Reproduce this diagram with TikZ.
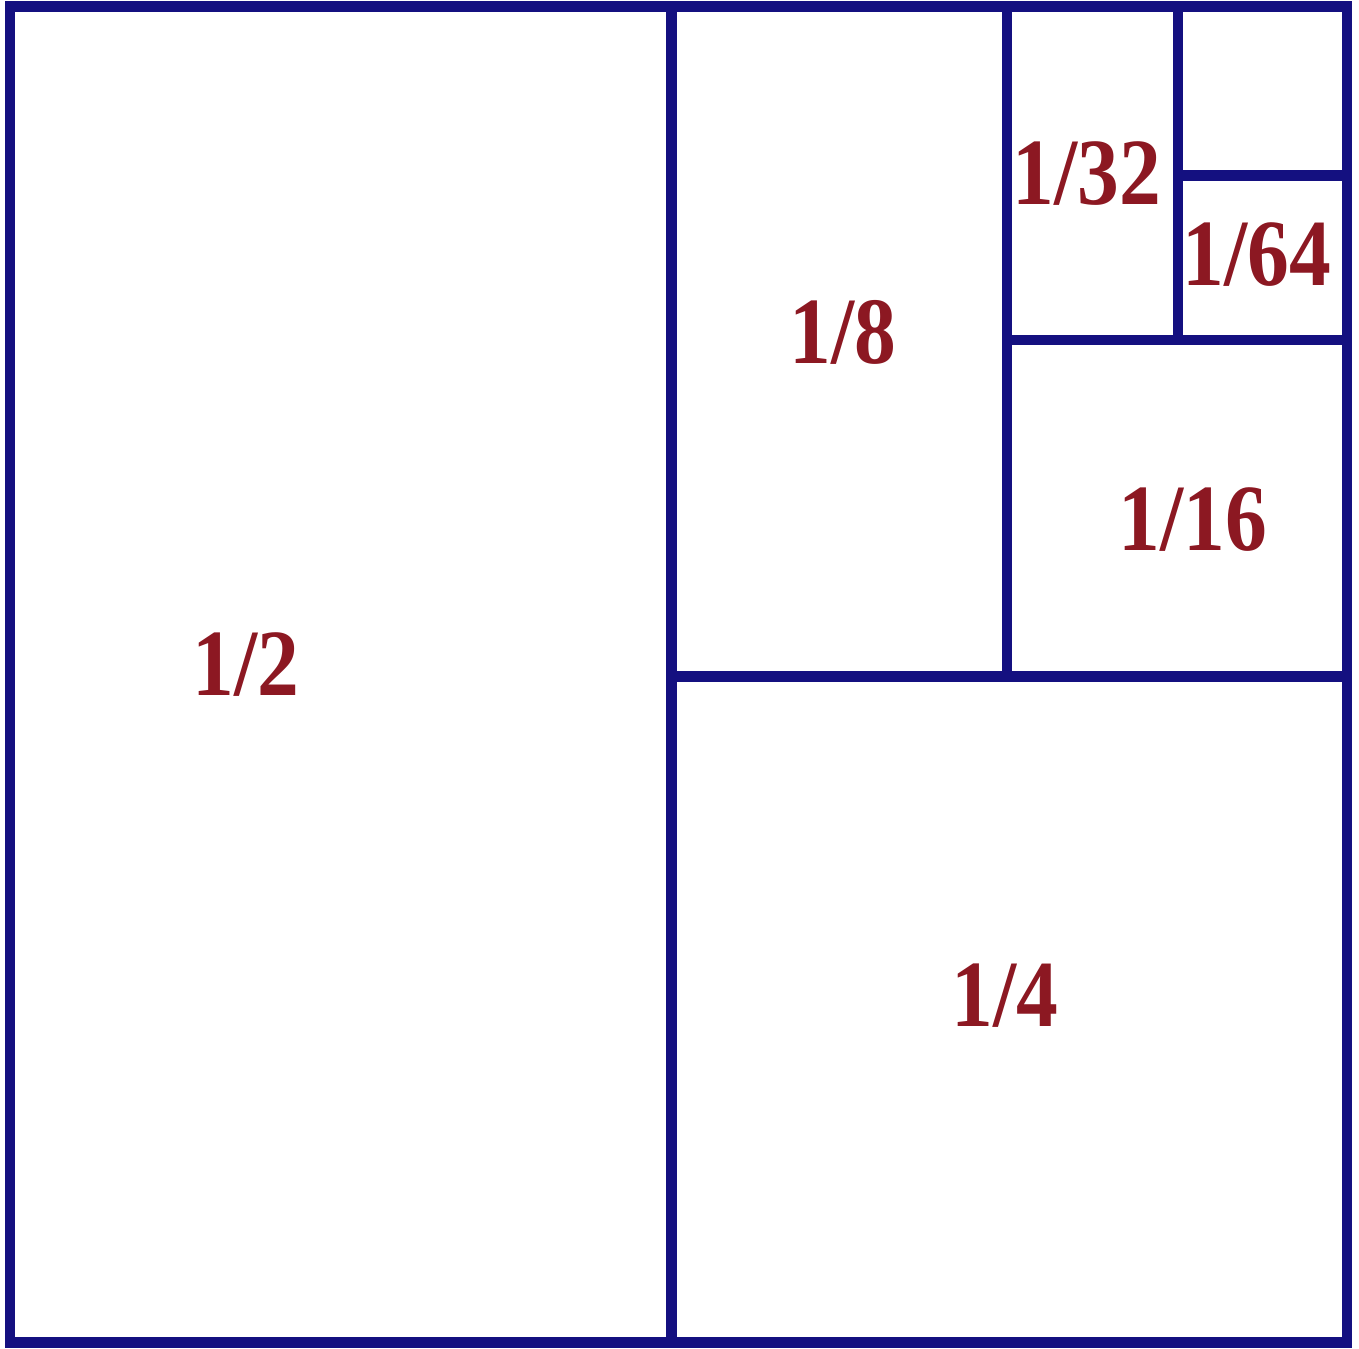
\documentclass[tikz,border=0pt]{standalone}
\usepackage{fontspec}
\setmainfont{Liberation Serif}
\newfontfamily\fracfont[FakeStretch=0.88]{Liberation Serif}
\definecolor{wallblue}{RGB}{20,16,128}
\definecolor{fracred}{RGB}{140,24,34}
\tikzset{
  wall/.style={line width=3.1pt,draw=wallblue,line join=miter},
  frac/.style={inner sep=0pt,text=fracred,font=\fracfont\bfseries\fontsize{27}{27}\selectfont}}
\newcommand{\fcell}[4]{\node[frac] (#1) at (#2,#3) {#4};}

\begin{document}
\begin{tikzpicture}[x=13.37cm,y=13.36cm]
  \useasboundingbox (-0.0075,-0.0045) rectangle (1.0090,1.0052);
  \draw[wall] (0,0) rectangle (1,1);
  % each cut halves what is left
  \foreach \p/\v/\h in {0/0.495/0.4985,0.4985/0.7457/0.7507,0.7507/0.8736/0.874}{
    \draw[wall] (\v,\p) -- (\v,1);
    \draw[wall] (\v,\h) -- (1,\h);}
  \fcell{half}{0.1765}{0.5075}{1/2}
  \fcell{quarter}{0.744}{0.260}{1/4}
  \fcell{eighth}{0.623}{0.756}{1/8}
  \fcell{sixteenth}{0.8848}{0.616}{1/16}
  \fcell{thirtysecond}{0.8055}{0.875}{1/32}
  \fcell{sixtyfourth}{0.9327}{0.815}{1/64}
\end{tikzpicture}
\end{document}
